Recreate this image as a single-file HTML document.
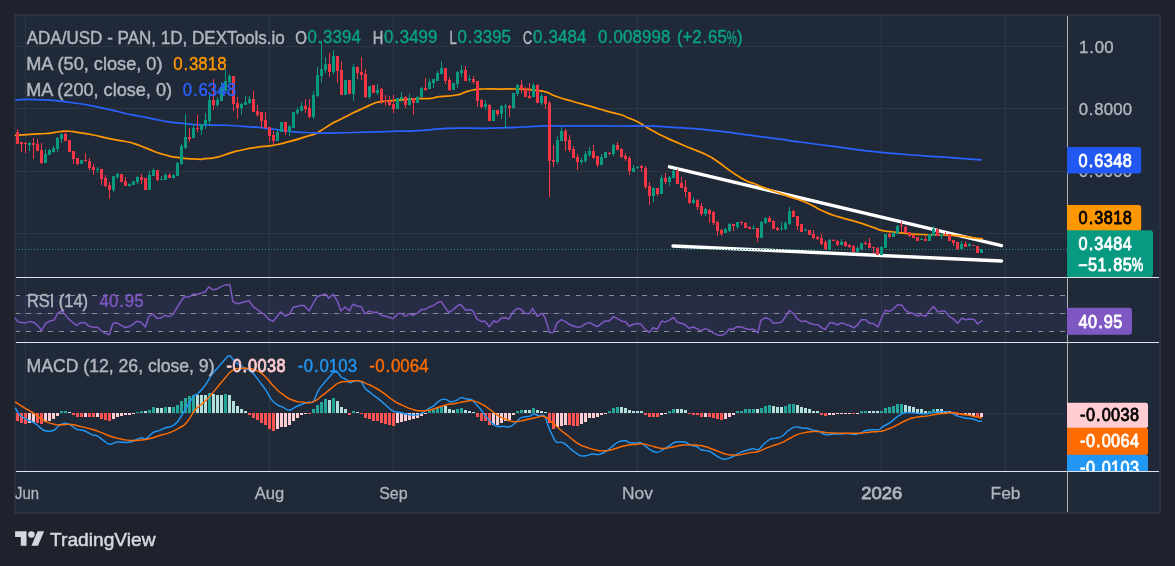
<!DOCTYPE html>
<html><head><meta charset="utf-8"><title>ADA/USD chart</title>
<style>html,body{margin:0;padding:0;background:#1e222d;overflow:hidden}svg{display:block;font-family:"Liberation Sans",sans-serif;will-change:transform}</style>
</head><body>
<svg width="1175" height="566" viewBox="0 0 1175 566">
<rect x="0" y="0" width="1175" height="566" fill="#1e222d"/>
<rect x="15" y="15" width="1145" height="498" fill="#1f2938" stroke="#2b303d" stroke-width="2"/>
<line x1="25.5" y1="16" x2="25.5" y2="471" stroke="#2d3645" stroke-width="1"/>
<line x1="269.5" y1="16" x2="269.5" y2="471" stroke="#2d3645" stroke-width="1"/>
<line x1="393.5" y1="16" x2="393.5" y2="471" stroke="#2d3645" stroke-width="1"/>
<line x1="637.5" y1="16" x2="637.5" y2="471" stroke="#2d3645" stroke-width="1"/>
<line x1="881.5" y1="16" x2="881.5" y2="471" stroke="#2d3645" stroke-width="1"/>
<line x1="1005.5" y1="16" x2="1005.5" y2="471" stroke="#2d3645" stroke-width="1"/>
<line x1="16" y1="46.5" x2="1067" y2="46.5" stroke="#2d3645" stroke-width="1"/>
<line x1="16" y1="108.5" x2="1067" y2="108.5" stroke="#2d3645" stroke-width="1"/>
<line x1="16" y1="171.5" x2="1067" y2="171.5" stroke="#2d3645" stroke-width="1"/>
<line x1="16" y1="233.5" x2="1067" y2="233.5" stroke="#2d3645" stroke-width="1"/>
<line x1="16" y1="413.5" x2="1067" y2="413.5" stroke="#2d3645" stroke-width="1"/>
<line x1="16" y1="313.5" x2="1067" y2="313.5" stroke="#2d3645" stroke-width="1"/>
<rect x="16" y="295.5" width="1051" height="36" fill="#7e57c2" fill-opacity="0.1"/>
<line x1="16" y1="295.5" x2="1067" y2="295.5" stroke="#8a8d97" stroke-width="1" stroke-dasharray="5 6" stroke-dashoffset="1"/>
<line x1="16" y1="313.5" x2="1067" y2="313.5" stroke="#8a8d97" stroke-width="1" stroke-dasharray="5 6" stroke-dashoffset="1"/>
<line x1="16" y1="331.5" x2="1067" y2="331.5" stroke="#8a8d97" stroke-width="1" stroke-dasharray="5 6" stroke-dashoffset="1"/>
<line x1="669.5" y1="166.8" x2="1001.5" y2="245.7" stroke="#ffffff" stroke-width="3.4" stroke-linecap="round"/>
<line x1="673" y1="246" x2="1001.5" y2="261" stroke="#ffffff" stroke-width="3.4" stroke-linecap="round"/>
<line x1="16" y1="249.5" x2="1067" y2="249.5" stroke="#089981" stroke-width="1" stroke-dasharray="1 2"/>
<path d="M15.6 135.4C20.4 135.0 19.8 134.9 29.9 134.3C40.0 133.7 37.4 134.2 45.8 133.5C54.2 132.8 49.7 133.0 55.0 132.3C60.3 131.6 58.0 131.8 61.7 131.4C65.4 131.0 62.6 131.1 66.0 131.1C69.4 131.1 68.1 131.1 72.0 131.5C75.9 131.9 70.4 131.1 77.6 132.3C84.8 133.5 82.9 132.9 93.5 135.0C104.1 137.1 98.8 136.4 109.4 138.6C120.0 140.8 117.1 139.8 125.3 141.5C133.5 143.2 126.8 141.3 134.0 143.6C141.2 145.9 136.9 144.8 146.8 148.4C156.7 152.0 152.4 151.3 163.6 154.5C174.8 157.7 169.2 156.4 180.4 157.9C191.6 159.4 188.7 158.8 197.1 159.1C205.5 159.4 198.8 159.4 205.5 158.7C212.2 158.0 208.9 159.0 217.3 157.1C225.7 155.2 222.5 155.3 230.7 152.9C238.9 150.5 233.4 151.9 242.0 150.0C250.6 148.1 246.0 148.9 256.4 147.3C266.8 145.7 261.9 147.3 273.1 145.3C284.3 143.3 278.8 144.4 290.0 141.4C301.2 138.4 298.3 138.9 306.7 136.4C315.1 133.9 310.3 135.9 315.1 133.9C319.9 131.9 315.6 133.8 321.0 130.5C326.4 127.2 325.0 127.6 331.2 124.0C337.4 120.4 333.5 122.9 339.6 119.8C345.7 116.7 344.0 117.5 349.6 114.7C355.2 111.9 351.4 113.8 356.4 111.4C361.4 109.0 359.1 110.0 364.7 107.5C370.3 105.0 368.6 105.6 373.1 103.8C377.6 102.0 372.6 103.1 378.2 102.1C383.8 101.1 380.5 101.7 390.0 100.8C399.5 99.9 396.9 100.1 406.7 99.4C416.5 98.7 411.2 99.0 419.4 98.7C427.6 98.4 424.5 99.1 431.2 98.4C437.9 97.7 431.2 97.8 439.6 96.7C448.0 95.6 448.0 96.5 456.4 95.0C464.8 93.5 459.1 94.0 464.7 92.3C470.3 90.6 466.9 91.1 473.1 90.0C479.3 88.9 474.2 89.3 483.2 89.0C492.2 88.7 489.4 89.0 500.0 89.0C510.6 89.0 506.3 88.9 515.0 89.0C523.7 89.1 518.9 88.8 526.0 89.3C533.1 89.8 529.4 89.5 536.2 90.4C543.0 91.3 539.6 90.1 546.3 92.1C553.0 94.1 547.5 93.4 556.4 96.5C565.3 99.6 561.9 98.3 573.1 101.5C584.3 104.7 578.7 103.0 589.9 106.2C601.1 109.4 596.7 108.3 606.7 111.1C616.7 113.9 612.9 112.3 620.0 114.5C627.1 116.7 622.2 115.3 628.0 117.7C633.8 120.1 631.7 118.8 637.5 121.7C643.3 124.6 639.6 123.1 645.4 126.5C651.2 129.9 648.1 128.3 655.0 132.0C661.9 135.7 659.2 134.3 666.1 137.6C673.0 140.9 668.8 138.9 675.7 141.9C682.6 144.9 679.4 143.6 686.8 146.7C694.2 149.8 690.5 147.9 697.9 151.1C705.3 154.3 702.2 152.5 709.1 156.2C716.0 159.9 712.2 157.9 718.6 162.3C725.0 166.7 721.8 164.9 728.2 169.4C734.6 173.9 731.4 171.8 737.7 175.8C744.0 179.8 741.4 178.6 747.2 181.3C753.0 184.0 749.9 182.0 755.2 184.0C760.5 186.0 757.8 185.4 763.1 187.4C768.4 189.4 765.5 188.1 771.1 190.1C776.7 192.1 773.7 191.1 780.0 193.3C786.3 195.5 781.0 193.7 789.9 196.8C798.8 199.9 795.7 198.0 806.7 202.7C817.7 207.4 811.8 206.2 822.8 211.0C833.8 215.8 828.4 213.6 839.6 217.2C850.8 220.8 845.2 218.5 856.4 221.9C867.6 225.3 864.7 224.5 873.1 227.3C881.5 230.1 874.8 228.7 881.5 230.3C888.2 231.9 884.9 230.9 893.3 232.0C901.7 233.1 896.9 232.7 906.7 233.5C916.5 234.3 911.8 234.0 922.8 234.5C933.8 235.0 928.4 234.6 939.6 235.0C950.8 235.4 945.2 234.8 956.4 235.7C967.6 236.6 964.6 236.8 973.1 237.8C981.6 238.8 979.0 238.4 982.0 238.7" fill="none" stroke="#ff9800" stroke-width="1.75" stroke-linejoin="round" stroke-linecap="round"/>
<path d="M15.9 100.0C22.4 99.9 17.0 98.8 35.3 99.6C53.6 100.4 47.1 99.4 70.7 102.5C94.3 105.6 87.8 105.1 106.0 108.8C124.2 112.5 116.0 111.4 125.3 113.5C134.6 115.6 126.8 113.7 134.0 115.1C141.2 116.5 136.9 115.6 146.8 117.6C156.7 119.6 152.4 119.1 163.6 121.0C174.8 122.9 169.2 122.0 180.4 123.2C191.6 124.4 185.9 124.0 197.1 124.7C208.3 125.4 202.8 124.9 214.0 125.2C225.2 125.5 218.7 124.9 230.7 125.5C242.7 126.1 241.4 126.3 250.0 126.9C258.6 127.5 248.7 126.4 256.4 127.2C264.1 128.0 261.9 127.8 273.1 129.2C284.3 130.6 278.8 130.3 290.0 131.4C301.2 132.5 294.7 132.0 306.7 132.5C318.7 133.0 310.4 133.0 326.0 133.0C341.6 133.0 328.7 133.1 353.4 132.5C378.1 131.9 376.9 131.9 400.0 131.2C423.1 130.5 409.6 131.1 422.8 130.3C436.0 129.5 428.4 129.6 439.6 128.9C450.8 128.2 445.2 128.3 456.4 128.1C467.6 127.9 461.9 128.2 473.1 128.2C484.3 128.2 478.8 128.4 490.0 128.2C501.2 128.0 495.8 128.1 506.7 127.7C517.6 127.3 511.8 127.5 522.8 127.0C533.8 126.5 528.4 126.6 539.6 126.2C550.8 125.8 539.6 126.0 556.4 125.9C573.2 125.8 568.8 125.9 590.0 125.9C611.2 125.9 599.4 125.9 620.0 126.0C640.6 126.1 634.3 125.8 651.8 126.2C669.3 126.6 656.6 126.3 672.5 127.3C688.4 128.3 682.5 127.7 699.5 129.2C716.5 130.7 707.5 129.8 723.4 131.7C739.3 133.6 728.3 132.4 747.2 134.9C766.1 137.4 762.4 136.8 780.0 139.2C797.6 141.6 781.6 139.5 800.0 142.0C818.4 144.5 811.7 143.6 835.3 146.7C858.9 149.8 847.1 148.7 870.7 151.3C894.3 153.9 882.4 152.6 906.0 154.5C929.6 156.4 916.3 155.1 941.4 156.9C966.5 158.7 968.0 158.8 981.3 159.8" fill="none" stroke="#2962ff" stroke-width="1.75" stroke-linejoin="round" stroke-linecap="round"/>
<path d="M16 132h3v12h-3zM17 129h1v15h-1zM20 142h3v2h-3zM21 142h1v10h-1zM24 143h3v1h-3zM25 142h1v11h-1zM32 143h3v2h-3zM33 138h1v21h-1zM36 144h3v7h-3zM37 139h1v12h-1zM40 150h3v13h-3zM41 143h1v21h-1zM64 134h3v7h-3zM65 130h1v11h-1zM68 140h3v12h-3zM72 151h3v8h-3zM73 151h1v13h-1zM76 158h3v6h-3zM77 158h1v7h-1zM84 160h3v1h-3zM85 153h1v9h-1zM88 161h3v7h-3zM89 158h1v12h-1zM92 167h3v3h-3zM93 164h1v11h-1zM100 169h3v10h-3zM101 169h1v16h-1zM104 178h3v8h-3zM105 175h1v12h-1zM108 185h3v5h-3zM109 182h1v17h-1zM120 174h3v8h-3zM124 181h3v5h-3zM125 177h1v9h-1zM140 177h3v3h-3zM141 174h1v10h-1zM144 178h3v12h-3zM156 170h3v10h-3zM157 170h1v11h-1zM168 175h3v3h-3zM169 173h1v5h-1zM188 137h3v2h-3zM189 128h1v14h-1zM196 128h3v1h-3zM197 115h1v17h-1zM212 100h3v5h-3zM213 79h1v31h-1zM232 76h3v28h-3zM233 76h1v35h-1zM236 103h3v5h-3zM237 97h1v22h-1zM252 99h3v13h-3zM253 91h1v21h-1zM256 111h3v4h-3zM257 105h1v12h-1zM260 112h3v9h-3zM261 112h1v16h-1zM264 120h3v8h-3zM265 112h1v16h-1zM268 127h3v9h-3zM269 127h1v15h-1zM272 135h3v6h-3zM273 131h1v13h-1zM284 122h3v10h-3zM285 122h1v13h-1zM304 106h3v3h-3zM305 99h1v14h-1zM308 108h3v9h-3zM309 99h1v19h-1zM328 64h3v8h-3zM329 53h1v24h-1zM336 56h3v15h-3zM337 56h1v27h-1zM340 70h3v25h-3zM341 61h1v34h-1zM348 80h3v14h-3zM356 67h3v6h-3zM357 66h1v13h-1zM360 72h3v3h-3zM361 57h1v23h-1zM364 74h3v23h-3zM365 69h1v29h-1zM372 85h3v8h-3zM380 89h3v12h-3zM381 88h1v16h-1zM384 100h3v2h-3zM385 95h1v11h-1zM388 101h3v4h-3zM389 96h1v10h-1zM392 104h3v5h-3zM393 95h1v18h-1zM404 97h3v8h-3zM405 96h1v12h-1zM412 98h3v5h-3zM413 98h1v17h-1zM424 88h3v2h-3zM425 78h1v13h-1zM444 68h3v13h-3zM445 68h1v16h-1zM448 80h3v10h-3zM449 77h1v14h-1zM464 70h3v11h-3zM465 66h1v15h-1zM472 79h3v3h-3zM473 76h1v8h-1zM476 81h3v20h-3zM477 81h1v26h-1zM480 100h3v7h-3zM481 99h1v9h-1zM488 105h3v16h-3zM489 104h1v17h-1zM496 110h3v4h-3zM497 110h1v6h-1zM508 106h3v2h-3zM509 105h1v12h-1zM520 85h3v4h-3zM521 80h1v13h-1zM524 88h3v9h-3zM525 87h1v10h-1zM528 96h3v2h-3zM529 83h1v16h-1zM536 85h3v18h-3zM537 84h1v19h-1zM544 96h3v8h-3zM545 96h1v13h-1zM548 103h3v58h-3zM549 101h1v96h-1zM552 160h3v2h-3zM553 145h1v22h-1zM564 131h3v10h-3zM565 129h1v22h-1zM568 140h3v10h-3zM569 135h1v17h-1zM572 149h3v9h-3zM573 146h1v12h-1zM576 157h3v5h-3zM577 154h1v16h-1zM592 151h3v7h-3zM593 145h1v14h-1zM596 156h3v9h-3zM597 156h1v11h-1zM608 153h3v1h-3zM609 152h1v3h-1zM616 145h3v5h-3zM617 142h1v8h-1zM620 149h3v8h-3zM621 148h1v10h-1zM624 156h3v3h-3zM625 153h1v8h-1zM628 158h3v13h-3zM629 156h1v19h-1zM640 166h3v2h-3zM641 165h1v7h-1zM644 168h3v19h-3zM645 166h1v23h-1zM648 186h3v10h-3zM649 182h1v23h-1zM656 188h3v6h-3zM657 188h1v8h-1zM664 178h3v4h-3zM665 173h1v11h-1zM676 171h3v13h-3zM677 169h1v15h-1zM680 183h3v5h-3zM681 177h1v11h-1zM684 187h3v5h-3zM685 180h1v17h-1zM688 192h3v11h-3zM689 192h1v12h-1zM696 200h3v7h-3zM697 199h1v11h-1zM700 206h3v8h-3zM701 203h1v13h-1zM708 210h3v4h-3zM709 209h1v14h-1zM712 212h3v11h-3zM713 211h1v14h-1zM716 222h3v9h-3zM717 221h1v15h-1zM720 230h3v4h-3zM721 229h1v7h-1zM732 224h3v2h-3zM733 224h1v7h-1zM740 222h3v1h-3zM741 221h1v4h-1zM744 223h3v5h-3zM745 222h1v6h-1zM748 227h3v2h-3zM749 226h1v3h-1zM756 228h3v10h-3zM757 228h1v14h-1zM768 218h3v4h-3zM769 216h1v6h-1zM772 221h3v8h-3zM773 220h1v9h-1zM776 228h3v2h-3zM777 227h1v4h-1zM792 211h3v6h-3zM793 210h1v7h-1zM796 216h3v10h-3zM797 216h1v14h-1zM800 224h3v8h-3zM808 230h3v5h-3zM812 234h3v4h-3zM813 230h1v9h-1zM816 237h3v2h-3zM817 236h1v4h-1zM820 238h3v6h-3zM821 234h1v11h-1zM824 242h3v7h-3zM825 240h1v10h-1zM832 240h3v1h-3zM833 239h1v2h-1zM836 241h3v4h-3zM837 240h1v6h-1zM844 242h3v4h-3zM845 241h1v6h-1zM848 245h3v2h-3zM849 244h1v4h-1zM852 246h3v6h-3zM853 245h1v7h-1zM864 243h3v1h-3zM865 241h1v4h-1zM868 243h3v5h-3zM869 238h1v10h-1zM872 247h3v1h-3zM873 247h1v6h-1zM876 248h3v7h-3zM877 247h1v8h-1zM888 234h3v3h-3zM889 233h1v5h-1zM900 225h3v1h-3zM901 221h1v11h-1zM904 227h3v6h-3zM905 226h1v7h-1zM908 232h3v4h-3zM909 232h1v5h-1zM912 235h3v3h-3zM913 234h1v4h-1zM916 237h3v4h-3zM924 239h3v2h-3zM925 236h1v5h-1zM936 229h3v7h-3zM944 234h3v1h-3zM945 232h1v3h-1zM948 234h3v7h-3zM952 240h3v3h-3zM953 240h1v6h-1zM956 242h3v7h-3zM957 242h1v8h-1zM964 244h3v3h-3zM965 241h1v6h-1zM972 245h3v1h-3zM976 246h3v7h-3z" fill="#f23645" shape-rendering="crispEdges"/>
<path d="M28 143h3v2h-3zM29 142h1v9h-1zM44 154h3v9h-3zM45 149h1v14h-1zM48 150h3v5h-3zM49 149h1v6h-1zM52 148h3v4h-3zM53 146h1v7h-1zM56 138h3v11h-3zM57 137h1v15h-1zM60 134h3v5h-3zM61 134h1v9h-1zM80 160h3v4h-3zM96 169h3v1h-3zM97 167h1v6h-1zM112 176h3v14h-3zM113 176h1v16h-1zM116 174h3v3h-3zM117 173h1v6h-1zM128 184h3v2h-3zM129 183h1v4h-1zM132 181h3v4h-3zM136 177h3v5h-3zM137 176h1v8h-1zM148 175h3v15h-3zM149 171h1v19h-1zM152 170h3v6h-3zM153 168h1v8h-1zM160 179h3v1h-3zM161 176h1v4h-1zM164 175h3v5h-3zM165 173h1v7h-1zM172 175h3v3h-3zM173 174h1v5h-1zM176 163h3v13h-3zM177 162h1v14h-1zM180 146h3v18h-3zM181 144h1v21h-1zM184 137h3v11h-3zM185 114h1v35h-1zM192 128h3v10h-3zM193 124h1v14h-1zM200 124h3v6h-3zM201 124h1v11h-1zM204 120h3v5h-3zM205 113h1v16h-1zM208 100h3v21h-3zM209 95h1v31h-1zM216 100h3v5h-3zM217 97h1v10h-1zM220 87h3v14h-3zM221 82h1v19h-1zM224 81h3v10h-3zM225 69h1v22h-1zM228 76h3v6h-3zM229 74h1v9h-1zM240 104h3v4h-3zM241 103h1v12h-1zM244 102h3v3h-3zM245 96h1v9h-1zM248 99h3v4h-3zM249 96h1v8h-1zM276 132h3v9h-3zM277 129h1v12h-1zM280 122h3v10h-3zM288 126h3v6h-3zM289 125h1v11h-1zM292 112h3v16h-3zM296 110h3v3h-3zM297 107h1v8h-1zM300 106h3v5h-3zM301 102h1v9h-1zM312 95h3v22h-3zM313 91h1v28h-1zM316 75h3v21h-3zM317 67h1v30h-1zM320 69h3v7h-3zM321 41h1v42h-1zM324 64h3v6h-3zM325 57h1v16h-1zM332 56h3v16h-3zM333 50h1v24h-1zM344 80h3v15h-3zM352 67h3v27h-3zM353 64h1v37h-1zM368 86h3v11h-3zM369 86h1v13h-1zM376 90h3v3h-3zM377 84h1v11h-1zM396 98h3v11h-3zM400 97h3v2h-3zM401 92h1v10h-1zM408 98h3v7h-3zM409 94h1v12h-1zM416 97h3v6h-3zM417 96h1v7h-1zM420 88h3v9h-3zM421 87h1v11h-1zM428 82h3v7h-3zM429 79h1v10h-1zM432 79h3v4h-3zM433 79h1v9h-1zM436 73h3v8h-3zM437 71h1v10h-1zM440 68h3v6h-3zM441 61h1v13h-1zM452 83h3v7h-3zM456 72h3v12h-3zM457 71h1v17h-1zM460 70h3v3h-3zM461 65h1v12h-1zM468 79h3v1h-3zM469 75h1v7h-1zM484 104h3v3h-3zM485 100h1v10h-1zM492 110h3v11h-3zM500 106h3v8h-3zM501 105h1v14h-1zM504 106h3v1h-3zM505 104h1v24h-1zM512 93h3v15h-3zM513 93h1v16h-1zM516 85h3v9h-3zM517 84h1v12h-1zM532 85h3v12h-3zM533 83h1v14h-1zM540 96h3v7h-3zM541 93h1v12h-1zM556 140h3v22h-3zM557 136h1v28h-1zM560 131h3v10h-3zM561 127h1v14h-1zM580 160h3v2h-3zM581 158h1v6h-1zM584 154h3v7h-3zM585 151h1v12h-1zM588 151h3v4h-3zM589 147h1v10h-1zM600 157h3v8h-3zM601 154h1v11h-1zM604 152h3v6h-3zM612 145h3v9h-3zM613 144h1v12h-1zM632 168h3v4h-3zM633 165h1v7h-1zM636 167h3v1h-3zM637 166h1v3h-1zM652 188h3v8h-3zM653 187h1v15h-1zM660 178h3v16h-3zM661 175h1v19h-1zM668 177h3v5h-3zM669 176h1v10h-1zM672 171h3v7h-3zM673 170h1v8h-1zM692 200h3v3h-3zM693 197h1v7h-1zM704 209h3v5h-3zM705 208h1v8h-1zM724 229h3v4h-3zM725 228h1v5h-1zM728 224h3v7h-3zM729 223h1v9h-1zM736 222h3v5h-3zM737 222h1v7h-1zM752 228h3v1h-3zM753 225h1v4h-1zM760 222h3v16h-3zM761 221h1v17h-1zM764 218h3v5h-3zM765 217h1v7h-1zM780 228h3v1h-3zM781 222h1v9h-1zM784 223h3v6h-3zM785 221h1v9h-1zM788 211h3v13h-3zM789 207h1v18h-1zM804 230h3v1h-3zM805 228h1v3h-1zM828 240h3v10h-3zM829 239h1v11h-1zM840 242h3v3h-3zM841 239h1v6h-1zM856 248h3v4h-3zM857 246h1v6h-1zM860 243h3v6h-3zM861 243h1v7h-1zM880 247h3v8h-3zM881 246h1v9h-1zM884 234h3v14h-3zM892 233h3v4h-3zM893 232h1v5h-1zM896 226h3v8h-3zM897 225h1v9h-1zM920 239h3v1h-3zM921 238h1v2h-1zM928 234h3v7h-3zM932 229h3v7h-3zM933 226h1v10h-1zM940 234h3v2h-3zM941 234h1v5h-1zM960 244h3v5h-3zM961 241h1v9h-1zM968 244h3v2h-3zM969 243h1v4h-1zM980 249h3v4h-3z" fill="#089981" shape-rendering="crispEdges"/>
<path d="M15.2 318.1L18.3 322.1L25.0 322.9L30.1 321.4L33.9 322.4L37.7 325.5L41.6 330.5L45.4 323.6L50.0 320.9L54.1 320.1L57.7 313.2L61.8 310.9L65.3 314.8L69.1 319.4L76.5 325.5L80.6 322.7L84.8 322.7L89.1 326.3L93.7 327.3L97.5 327.3L101.3 330.8L105.1 333.1L109.3 334.7L112.8 323.6L116.6 322.7L120.8 325.2L125.1 327.5L128.9 326.7L132.7 324.7L136.5 321.2L140.8 322.1L145.4 327.0L148.8 316.6L152.6 314.0L157.2 318.6L160.8 318.1L164.9 315.2L168.7 316.6L172.5 315.1L176.4 308.6L180.2 302.5L184.0 297.1L188.6 297.1L193.4 294.1L196.9 294.5L201.0 293.3L205.3 291.8L208.7 286.9L213.0 289.9L217.6 288.7L221.4 286.4L225.5 284.9L229.8 284.4L232.9 301.7L237.5 303.7L242.8 302.2L249.0 300.7L253.6 307.1L258.2 310.2L264.3 314.5L268.9 319.4L273.0 321.4L277.0 316.6L280.7 312.0L285.3 316.0L289.6 314.0L293.4 307.1L297.2 306.6L301.5 305.3L304.6 305.9L309.2 310.9L312.9 304.0L317.1 296.7L321.0 295.2L325.6 294.1L328.6 298.2L333.2 294.4L337.4 301.0L340.9 310.9L345.0 307.1L349.6 310.9L352.7 304.3L357.7 306.3L361.3 306.8L364.9 314.0L369.1 310.9L373.4 312.5L376.7 312.0L381.3 315.5L385.1 316.0L389.7 317.5L393.3 318.6L398.2 313.5L401.5 313.5L405.1 316.3L409.7 313.7L412.7 315.5L417.3 313.2L421.9 309.4L425.0 309.4L429.6 306.8L433.4 305.6L436.8 303.0L441.1 301.4L444.9 307.1L448.7 312.5L453.0 309.9L457.6 305.6L460.7 304.5L465.6 310.2L470.2 309.7L472.9 310.9L477.1 319.1L481.7 321.7L484.7 320.9L489.3 326.7L493.9 320.6L496.5 322.4L501.6 318.1L505.7 317.8L508.8 319.1L513.4 311.4L517.7 308.3L520.4 308.9L525.3 313.5L529.6 313.5L532.7 308.6L537.3 316.3L541.6 313.3L544.9 317.1L549.5 332.4L553.5 332.4L556.9 323.2L561.4 319.7L565.3 321.7L569.1 324.3L573.7 326.3L578.0 327.3L581.1 326.7L585.2 324.0L589.3 322.4L593.3 324.7L597.4 326.6L601.3 323.6L605.1 320.9L609.2 320.9L613.8 316.6L617.4 318.6L622.0 321.2L625.8 321.7L629.2 326.3L633.4 324.3L637.3 323.6L640.8 324.0L645.7 330.1L649.5 332.4L653.1 327.8L657.2 329.3L661.8 320.9L664.8 322.1L669.4 320.1L673.6 317.5L677.1 322.0L680.9 323.2L685.2 324.7L688.9 328.2L693.2 327.0L697.0 328.6L700.8 330.8L705.1 328.6L709.3 330.1L713.1 332.8L717.8 335.1L721.7 335.4L725.0 333.9L729.3 329.0L733.1 329.3L737.0 326.7L741.3 327.0L745.4 328.6L749.5 329.6L753.8 329.3L758.0 332.8L760.7 320.6L765.3 317.5L769.5 319.1L773.0 322.9L777.6 322.9L781.7 322.1L785.7 316.3L789.4 310.5L793.7 313.5L797.0 318.6L801.3 321.4L805.6 320.9L809.3 323.2L813.6 324.4L817.9 324.7L821.2 327.3L825.1 329.6L830.0 322.4L833.8 323.2L837.3 324.7L841.9 322.7L846.0 324.7L849.6 325.5L853.7 327.8L857.2 325.2L861.4 319.7L865.7 319.7L869.0 322.9L873.3 323.6L877.9 327.0L881.7 317.8L885.3 310.2L889.4 311.4L893.8 308.6L897.5 304.8L902.1 305.3L905.2 310.2L909.4 312.5L913.3 313.5L917.4 316.0L921.4 315.1L925.5 316.3L929.4 310.9L933.5 306.3L937.8 312.0L941.3 310.9L945.0 311.2L950.0 317.1L953.1 318.6L957.7 323.2L961.8 318.1L965.4 319.7L970.0 318.9L974.1 319.4L977.6 324.0L981.8 320.9" fill="none" stroke="#7e57c2" stroke-width="1.5" stroke-linejoin="round" stroke-linecap="round"/>
<path d="M60 411h3v2h-3zM64 411h3v2h-3zM136 412h3v1h-3zM140 411h3v2h-3zM148 410h3v3h-3zM152 407h3v6h-3zM164 407h3v6h-3zM172 407h3v6h-3zM176 405h3v8h-3zM180 401h3v12h-3zM184 398h3v15h-3zM188 396h3v17h-3zM192 395h3v18h-3zM208 393h3v20h-3zM224 394h3v19h-3zM312 409h3v4h-3zM316 405h3v8h-3zM320 402h3v11h-3zM324 399h3v14h-3zM332 398h3v15h-3zM352 411h3v2h-3zM428 411h3v2h-3zM432 410h3v3h-3zM436 408h3v5h-3zM440 407h3v6h-3zM456 409h3v4h-3zM460 408h3v5h-3zM516 411h3v2h-3zM520 410h3v3h-3zM532 408h3v5h-3zM608 411h3v2h-3zM612 408h3v5h-3zM616 407h3v6h-3zM668 411h3v2h-3zM672 409h3v4h-3zM736 411h3v2h-3zM740 411h3v2h-3zM744 409h3v4h-3zM748 409h3v4h-3zM752 409h3v4h-3zM760 408h3v5h-3zM764 406h3v7h-3zM768 405h3v8h-3zM784 406h3v7h-3zM788 404h3v9h-3zM792 404h3v9h-3zM860 411h3v2h-3zM864 411h3v2h-3zM880 411h3v2h-3zM884 408h3v5h-3zM888 407h3v6h-3zM892 406h3v7h-3zM896 404h3v9h-3zM900 404h3v9h-3zM928 411h3v2h-3zM932 409h3v4h-3z" fill="#26a69a" shape-rendering="crispEdges"/>
<path d="M68 412h3v1h-3zM144 411h3v2h-3zM156 408h3v5h-3zM160 408h3v5h-3zM168 407h3v6h-3zM196 395h3v18h-3zM200 395h3v18h-3zM204 395h3v18h-3zM212 394h3v19h-3zM216 395h3v18h-3zM220 395h3v18h-3zM228 395h3v18h-3zM232 401h3v12h-3zM236 406h3v7h-3zM240 409h3v4h-3zM244 411h3v2h-3zM328 400h3v13h-3zM336 401h3v12h-3zM340 407h3v6h-3zM344 409h3v4h-3zM356 412h3v1h-3zM444 406h3v7h-3zM448 409h3v4h-3zM452 410h3v3h-3zM464 410h3v3h-3zM468 411h3v2h-3zM472 412h3v1h-3zM524 410h3v3h-3zM528 410h3v3h-3zM536 410h3v3h-3zM540 411h3v2h-3zM544 412h3v1h-3zM620 407h3v6h-3zM624 408h3v5h-3zM628 410h3v3h-3zM632 411h3v2h-3zM636 411h3v2h-3zM640 411h3v2h-3zM676 409h3v4h-3zM680 409h3v4h-3zM684 410h3v3h-3zM756 409h3v4h-3zM772 406h3v7h-3zM776 407h3v6h-3zM780 407h3v6h-3zM796 405h3v8h-3zM800 407h3v6h-3zM804 408h3v5h-3zM808 409h3v4h-3zM812 411h3v2h-3zM816 411h3v2h-3zM868 411h3v2h-3zM872 411h3v2h-3zM876 411h3v2h-3zM904 405h3v8h-3zM908 406h3v7h-3zM912 407h3v6h-3zM916 409h3v4h-3zM920 409h3v4h-3zM924 411h3v2h-3zM936 409h3v4h-3zM940 409h3v4h-3zM944 411h3v2h-3zM948 411h3v2h-3z" fill="#b2dfdb" shape-rendering="crispEdges"/>
<path d="M16 413h3v8h-3zM20 413h3v10h-3zM24 413h3v11h-3zM36 413h3v10h-3zM40 413h3v11h-3zM72 413h3v2h-3zM76 413h3v4h-3zM80 413h3v4h-3zM88 413h3v4h-3zM92 413h3v4h-3zM100 413h3v6h-3zM104 413h3v7h-3zM108 413h3v8h-3zM248 413h3v2h-3zM252 413h3v5h-3zM256 413h3v7h-3zM260 413h3v10h-3zM264 413h3v12h-3zM268 413h3v16h-3zM272 413h3v18h-3zM308 413h3v1h-3zM348 413h3v2h-3zM360 413h3v1h-3zM364 413h3v5h-3zM368 413h3v6h-3zM372 413h3v8h-3zM376 413h3v8h-3zM380 413h3v10h-3zM384 413h3v11h-3zM388 413h3v12h-3zM392 413h3v13h-3zM476 413h3v4h-3zM480 413h3v8h-3zM484 413h3v8h-3zM488 413h3v12h-3zM548 413h3v10h-3zM552 413h3v16h-3zM568 413h3v12h-3zM572 413h3v13h-3zM576 413h3v13h-3zM644 413h3v2h-3zM648 413h3v4h-3zM652 413h3v4h-3zM656 413h3v4h-3zM688 413h3v1h-3zM692 413h3v2h-3zM696 413h3v2h-3zM700 413h3v4h-3zM708 413h3v4h-3zM712 413h3v5h-3zM716 413h3v6h-3zM720 413h3v7h-3zM820 413h3v2h-3zM824 413h3v3h-3zM852 413h3v1h-3zM952 413h3v1h-3zM956 413h3v2h-3zM960 413h3v2h-3zM976 413h3v4h-3z" fill="#ff5252" shape-rendering="crispEdges"/>
<path d="M28 413h3v10h-3zM32 413h3v9h-3zM44 413h3v9h-3zM48 413h3v8h-3zM52 413h3v6h-3zM56 413h3v3h-3zM84 413h3v4h-3zM96 413h3v4h-3zM112 413h3v6h-3zM116 413h3v4h-3zM120 413h3v3h-3zM124 413h3v2h-3zM128 413h3v2h-3zM132 413h3v1h-3zM276 413h3v16h-3zM280 413h3v14h-3zM284 413h3v14h-3zM288 413h3v12h-3zM292 413h3v8h-3zM296 413h3v5h-3zM300 413h3v2h-3zM304 413h3v1h-3zM396 413h3v10h-3zM400 413h3v9h-3zM404 413h3v8h-3zM408 413h3v7h-3zM412 413h3v6h-3zM416 413h3v5h-3zM420 413h3v3h-3zM424 413h3v1h-3zM492 413h3v12h-3zM496 413h3v12h-3zM500 413h3v10h-3zM504 413h3v8h-3zM508 413h3v7h-3zM512 413h3v2h-3zM556 413h3v14h-3zM560 413h3v13h-3zM564 413h3v12h-3zM580 413h3v11h-3zM584 413h3v9h-3zM588 413h3v5h-3zM592 413h3v5h-3zM596 413h3v4h-3zM600 413h3v2h-3zM604 413h3v1h-3zM660 413h3v2h-3zM664 413h3v1h-3zM704 413h3v4h-3zM724 413h3v6h-3zM728 413h3v4h-3zM732 413h3v2h-3zM828 413h3v2h-3zM832 413h3v2h-3zM836 413h3v1h-3zM840 413h3v1h-3zM844 413h3v1h-3zM848 413h3v1h-3zM856 413h3v1h-3zM964 413h3v2h-3zM968 413h3v2h-3zM972 413h3v3h-3zM980 413h3v4h-3z" fill="#ffcdd2" shape-rendering="crispEdges"/>
<path d="M15.6 408.3C16.4 409.7 17.8 413.0 19.8 415.1C21.8 417.2 23.0 417.6 25.7 419.0C28.4 420.4 30.7 420.7 33.4 422.3C36.1 423.9 37.0 425.1 39.3 426.8C41.6 428.5 42.2 430.0 45.1 430.7C48.0 431.4 51.2 431.3 53.9 430.3C56.6 429.3 56.5 427.2 58.7 425.8C60.9 424.4 62.6 423.5 64.9 423.3C67.2 423.1 68.1 423.6 70.4 424.8C72.7 426.0 73.5 427.9 76.2 429.1C78.9 430.3 80.9 429.6 84.0 430.7C87.1 431.8 89.1 433.5 91.8 434.6C94.5 435.7 95.3 434.9 97.6 436.1C99.9 437.3 101.0 438.8 103.4 440.4C105.8 442.0 106.9 444.0 109.6 444.3C112.3 444.6 114.3 442.4 117.0 442.0C119.7 441.6 120.2 442.3 122.9 442.3C125.6 442.3 127.1 442.9 130.6 442.0C134.1 441.1 137.3 438.6 140.4 437.9C143.5 437.2 143.7 439.6 146.2 438.5C148.7 437.4 150.3 434.2 153.0 432.6C155.7 431.0 157.3 431.3 159.8 430.3C162.3 429.3 163.3 428.6 165.6 427.8C167.9 427.0 169.2 427.6 171.5 426.4C173.8 425.2 175.0 424.5 177.3 421.9C179.6 419.3 180.8 416.9 183.1 413.2C185.4 409.5 186.8 407.0 189.0 403.5C191.2 400.0 192.3 397.7 194.0 395.7C195.7 393.7 195.4 395.8 197.7 393.7C200.0 391.6 202.7 388.7 205.4 385.0C208.1 381.3 209.0 378.6 211.3 375.3C213.6 372.0 214.6 371.4 217.1 368.5C219.6 365.6 221.5 363.2 223.9 360.7C226.3 358.2 227.3 355.9 229.2 355.8C231.1 355.7 231.5 358.2 233.6 360.1C235.7 362.0 237.4 363.6 239.5 365.2C241.6 366.8 241.8 366.5 244.3 367.9C246.8 369.3 249.0 369.6 252.1 372.4C255.2 375.2 257.2 378.6 259.9 382.1C262.6 385.6 263.4 386.4 265.7 389.9C268.0 393.4 269.2 396.6 271.5 399.6C273.8 402.6 275.1 403.3 277.4 404.8C279.7 406.3 280.9 406.2 283.2 407.3C285.5 408.4 286.7 410.3 289.0 410.3C291.3 410.3 292.2 408.6 294.9 407.3C297.6 406.0 299.9 405.0 302.6 404.0C305.3 403.0 306.4 402.6 308.5 402.1C310.6 401.6 311.4 403.8 313.3 401.5C315.2 399.2 316.1 394.5 318.2 390.8C320.3 387.1 321.7 385.9 324.0 383.0C326.3 380.1 328.0 378.3 329.9 376.2C331.8 374.1 332.2 373.2 333.7 372.4C335.2 371.6 336.0 371.4 337.6 372.4C339.2 373.4 339.7 375.8 341.5 377.2C343.3 378.6 344.6 378.4 346.4 379.5C348.2 380.6 348.6 382.5 350.3 382.7C352.0 382.9 352.9 380.8 355.1 380.7C357.3 380.6 359.6 380.7 361.5 382.1C363.4 383.5 362.8 385.6 364.8 387.9C366.8 390.2 368.7 391.4 371.6 393.7C374.5 396.0 376.3 397.1 379.4 399.6C382.5 402.1 384.5 404.1 387.2 406.4C389.9 408.7 390.7 410.0 393.0 411.2C395.3 412.4 396.1 411.6 398.8 412.2C401.5 412.8 403.5 413.6 406.6 414.2C409.7 414.8 411.7 415.2 414.4 415.1C417.1 415.0 417.9 414.8 420.2 413.8C422.5 412.8 423.5 411.8 426.0 410.3C428.5 408.8 430.5 408.0 432.8 406.4C435.1 404.8 435.9 403.5 437.7 402.1C439.5 400.7 439.8 400.1 441.6 399.6C443.4 399.1 444.9 399.2 446.5 399.6C448.1 400.0 448.0 401.1 449.4 401.5C450.8 401.9 451.8 401.8 453.3 401.5C454.8 401.2 455.6 401.0 457.1 400.2C458.6 399.4 459.0 397.8 461.0 397.6C463.0 397.4 464.8 398.6 466.9 399.0C469.0 399.4 470.2 398.9 471.7 399.6C473.2 400.3 472.8 400.6 474.6 402.5C476.4 404.4 478.2 406.4 480.5 409.3C482.8 412.2 484.0 414.4 486.3 417.1C488.6 419.8 490.1 421.1 492.1 422.9C494.1 424.7 494.1 425.5 496.4 426.2C498.7 426.9 501.2 426.3 503.8 426.4C506.4 426.5 507.3 427.5 509.6 426.8C511.9 426.1 513.4 424.7 515.5 422.9C517.6 421.1 518.4 419.2 520.3 418.0C522.2 416.8 523.2 417.1 525.2 416.7C527.2 416.3 528.4 416.6 530.1 416.1C531.8 415.6 531.8 414.1 533.5 414.0C535.2 413.9 536.5 415.3 538.7 415.7C540.9 416.1 542.6 413.9 544.6 416.1C546.6 418.3 546.6 422.1 548.5 426.8C550.4 431.5 552.6 436.3 554.3 439.4C556.0 442.5 555.8 441.7 557.2 442.3C558.6 442.9 559.5 442.0 561.1 442.3C562.7 442.6 563.1 442.5 565.0 443.9C566.9 445.3 568.5 447.2 570.8 449.1C573.1 451.0 574.7 452.0 576.7 453.4C578.7 454.8 579.0 455.5 580.9 455.9C582.8 456.3 584.1 456.0 586.4 455.6C588.7 455.2 589.9 454.2 592.2 454.0C594.5 453.8 595.9 454.8 598.0 454.6C600.1 454.4 600.9 453.9 602.9 453.0C604.9 452.1 605.7 451.6 607.8 450.1C609.9 448.6 611.5 446.9 613.6 445.3C615.7 443.7 616.2 442.8 618.5 441.9C620.8 441.0 623.0 440.6 625.3 440.8C627.6 441.0 628.0 442.5 630.1 442.9C632.2 443.3 633.8 442.9 635.9 442.9C638.0 442.9 638.7 441.8 640.8 442.7C642.9 443.6 644.5 445.6 646.6 447.2C648.7 448.8 649.4 449.5 651.5 450.5C653.6 451.5 654.8 452.7 657.3 452.4C659.8 452.1 661.6 450.5 664.1 449.1C666.6 447.7 667.9 446.7 670.0 445.3C672.1 443.9 672.7 443.0 674.8 442.3C676.9 441.6 678.6 441.8 680.7 441.8C682.8 441.8 683.4 441.6 685.5 442.3C687.6 443.0 689.1 444.4 691.4 445.3C693.7 446.2 695.3 445.9 697.2 446.8C699.1 447.7 698.6 448.8 701.1 449.7C703.6 450.6 706.5 450.1 709.8 451.5C713.1 452.9 714.7 454.9 717.6 456.5C720.5 458.1 721.3 459.3 724.4 459.3C727.5 459.3 729.8 457.9 733.1 456.5C736.4 455.1 737.8 453.5 740.9 452.1C744.0 450.7 746.2 450.4 748.7 449.7C751.2 449.0 751.6 448.8 753.5 448.8C755.4 448.8 756.3 450.5 758.4 449.5C760.5 448.5 761.9 445.7 764.2 443.7C766.5 441.7 767.7 440.5 770.0 439.4C772.3 438.3 773.6 438.7 775.9 438.1C778.2 437.5 779.4 437.9 781.7 436.5C784.0 435.1 785.2 433.1 787.5 431.3C789.8 429.5 791.4 428.3 793.4 427.4C795.4 426.5 795.6 426.9 797.3 427.0C799.0 427.1 800.2 427.8 802.1 428.1C804.0 428.4 804.9 427.9 807.0 428.3C809.1 428.7 810.5 429.5 812.8 430.1C815.1 430.7 816.1 430.4 818.6 431.3C821.1 432.2 822.7 434.0 825.4 434.6C828.1 435.2 829.3 434.3 832.2 434.2C835.1 434.1 836.9 434.1 840.0 434.0C843.1 433.9 844.7 433.5 847.8 433.6C850.9 433.7 852.9 434.8 855.6 434.6C858.3 434.4 859.1 433.5 861.4 432.6C863.7 431.7 864.5 430.9 867.2 430.3C869.9 429.7 872.7 429.8 875.0 429.7C877.3 429.6 877.4 430.3 878.9 429.7C880.4 429.1 880.6 428.2 882.7 426.8C884.8 425.4 886.7 424.9 889.6 422.9C892.5 420.9 894.6 418.6 897.3 416.7C900.0 414.8 900.9 414.0 903.2 413.2C905.5 412.4 906.3 412.6 909.0 412.6C911.7 412.6 913.7 413.0 916.8 413.2C919.9 413.4 921.4 413.9 924.5 413.8C927.6 413.7 929.2 413.0 932.3 412.6C935.4 412.2 937.2 412.0 940.1 411.8C943.0 411.6 944.6 411.5 946.9 411.8C949.2 412.1 949.7 412.3 951.8 413.2C953.9 414.1 954.9 415.1 957.6 416.1C960.3 417.1 962.3 417.4 965.4 418.0C968.5 418.6 970.6 418.4 973.1 419.0C975.6 419.6 976.3 420.5 978.0 421.0C979.7 421.5 980.8 421.2 981.5 421.3" fill="none" stroke="#2196f3" stroke-width="1.45" stroke-linejoin="round" stroke-linecap="round"/>
<path d="M15.6 402.1C18.3 403.8 17.8 403.6 23.7 407.3C29.6 411.0 26.9 409.0 33.4 413.2C39.9 417.4 36.7 416.4 43.2 420.0C49.7 423.6 47.1 422.3 52.9 423.9C58.7 425.5 54.9 424.6 60.7 424.8C66.5 425.0 63.9 424.0 70.4 424.5C76.9 425.0 73.0 424.8 80.1 426.4C87.2 428.0 84.7 427.2 91.8 429.3C98.9 431.4 95.0 430.2 101.5 432.6C108.0 435.0 104.7 434.4 111.2 436.5C117.7 438.6 114.4 437.7 120.9 439.0C127.4 440.3 124.1 440.1 130.6 440.4C137.1 440.7 133.9 440.6 140.4 440.0C146.9 439.4 143.6 440.0 150.1 438.5C156.6 437.0 153.3 437.5 159.8 435.5C166.3 433.5 163.0 435.2 169.5 432.6C176.0 430.0 173.4 431.4 179.2 427.8C185.0 424.2 181.5 428.1 187.0 421.9C192.5 415.7 189.6 416.3 195.7 409.3C201.8 402.3 198.9 407.4 205.4 400.9C211.9 394.4 208.7 397.5 215.2 389.9C221.7 382.3 219.1 384.7 224.9 378.2C230.7 371.7 227.5 373.6 232.7 370.4C237.9 367.2 235.2 369.1 240.4 368.5C245.6 367.9 243.0 367.9 248.2 368.5C253.4 369.1 250.8 368.1 256.0 370.4C261.2 372.7 258.0 370.1 263.8 375.3C269.6 380.5 267.0 379.5 273.5 386.0C280.0 392.5 276.7 390.0 283.2 394.7C289.7 399.4 286.4 397.7 292.9 400.2C299.4 402.7 296.1 401.5 302.6 402.1C309.1 402.7 305.9 404.2 312.4 402.1C318.9 400.0 315.6 400.4 322.1 395.7C328.6 391.0 326.0 392.2 331.8 387.9C337.6 383.6 334.4 384.8 339.6 382.7C344.8 380.6 342.2 382.2 347.4 381.5C352.6 380.8 350.6 380.8 355.1 380.7C359.6 380.6 357.4 380.4 361.0 381.3C364.6 382.2 361.6 381.5 365.8 383.4C370.0 385.3 367.8 383.8 373.6 386.9C379.4 390.0 376.8 388.4 383.3 392.8C389.8 397.2 386.5 396.0 393.0 400.2C399.5 404.4 396.2 402.4 402.7 405.4C409.2 408.4 406.6 407.5 412.4 409.3C418.2 411.1 415.0 410.5 420.2 410.8C425.4 411.1 422.8 411.1 428.0 410.3C433.2 409.5 430.0 410.1 435.8 408.3C441.6 406.5 439.0 406.6 445.5 405.0C452.0 403.4 448.7 404.7 455.2 403.5C461.7 402.3 459.1 402.4 464.9 401.5C470.7 400.6 467.5 400.2 472.7 400.9C477.9 401.6 475.3 401.0 480.5 403.5C485.7 406.0 483.1 404.7 488.3 408.3C493.5 411.9 490.8 410.8 496.0 414.2C501.2 417.6 498.6 416.0 503.8 418.4C509.0 420.8 507.1 420.3 511.6 421.3C516.1 422.3 512.9 421.9 517.4 421.5C521.9 421.1 520.0 421.1 525.2 420.0C530.4 418.9 528.8 419.3 533.0 418.3C537.2 417.3 533.9 417.6 537.8 417.1C541.7 416.6 540.1 415.1 544.6 416.7C549.1 418.3 546.5 417.9 551.4 421.9C556.3 425.9 553.4 423.8 559.2 428.7C565.0 433.6 562.4 431.4 568.9 436.5C575.4 441.6 572.8 440.3 578.6 443.9C584.4 447.5 580.6 445.1 586.4 447.2C592.2 449.3 590.3 448.9 596.1 450.1C601.9 451.3 598.7 450.8 603.9 450.7C609.1 450.6 606.4 450.9 611.6 449.7C616.8 448.5 614.2 448.7 619.4 447.2C624.6 445.7 621.4 446.3 627.2 445.3C633.0 444.3 631.7 444.8 636.9 444.3C642.1 443.8 638.3 443.5 642.8 443.9C647.3 444.3 645.3 444.3 650.5 445.6C655.7 446.9 653.1 446.9 658.3 447.8C663.5 448.7 660.9 448.5 666.1 448.2C671.3 447.9 668.7 447.8 673.9 446.8C679.1 445.8 676.4 445.9 681.6 445.3C686.8 444.7 684.2 444.9 689.4 444.9C694.6 444.9 692.0 444.7 697.2 445.3C702.4 445.9 700.8 445.6 705.0 446.6C709.2 447.6 705.6 446.7 709.8 448.2C714.0 449.7 712.4 449.2 717.6 451.1C722.8 453.0 720.1 452.7 725.3 454.0C730.5 455.3 727.9 454.8 733.1 455.0C738.3 455.2 735.1 455.4 740.9 454.6C746.7 453.8 744.8 453.6 750.6 452.6C756.4 451.6 753.2 453.0 758.4 451.5C763.6 450.0 761.0 450.3 766.2 448.2C771.4 446.1 768.7 447.1 773.9 445.3C779.1 443.5 776.5 445.0 781.7 442.7C786.9 440.4 784.3 441.2 789.5 438.5C794.7 435.8 792.1 436.6 797.3 434.6C802.5 432.6 799.8 433.6 805.0 432.6C810.2 431.6 808.3 431.9 812.8 431.6C817.3 431.3 814.1 431.3 818.6 431.6C823.1 431.9 821.2 432.1 826.4 432.6C831.6 433.1 829.0 432.8 834.2 433.0C839.4 433.2 836.8 433.1 842.0 433.2C847.2 433.3 844.5 433.2 849.7 433.2C854.9 433.2 852.3 433.4 857.5 433.2C862.7 433.0 860.1 433.1 865.3 432.6C870.5 432.1 868.3 432.2 873.1 431.8C877.9 431.4 875.0 432.2 879.8 431.4C884.6 430.6 881.8 431.5 887.6 429.3C893.4 427.1 890.8 427.9 897.3 424.8C903.8 421.7 900.5 422.6 907.0 420.0C913.5 417.4 910.3 418.4 916.8 417.1C923.3 415.8 920.0 417.1 926.5 416.1C933.0 415.1 929.7 415.2 936.2 414.2C942.7 413.2 940.1 413.7 945.9 413.2C951.7 412.7 948.5 412.5 953.7 412.8C958.9 413.1 955.7 413.2 961.5 414.2C967.3 415.2 964.5 414.4 971.2 415.7C977.9 417.0 978.1 417.2 981.5 418.0" fill="none" stroke="#ff6d00" stroke-width="1.45" stroke-linejoin="round" stroke-linecap="round"/>
<line x1="16" y1="277.5" x2="1159" y2="277.5" stroke="#e0e3eb" stroke-width="1"/>
<line x1="16" y1="342.5" x2="1159" y2="342.5" stroke="#e0e3eb" stroke-width="1"/>
<line x1="16" y1="471.5" x2="1159" y2="471.5" stroke="#e0e3eb" stroke-width="1"/>
<line x1="1067.5" y1="16" x2="1067.5" y2="512" stroke="#b3b3b7" stroke-width="1"/>
<text transform="scale(0.97,1)" x="1112.44 1122.91 1128.58 1138.33" y="52.7" font-size="17.3" fill="#b2b5be" stroke="#b2b5be" stroke-width="0.4">1.00</text>
<text transform="scale(0.97,1)" x="1112.03 1122.50 1128.17 1137.92 1147.68 1157.43" y="114.7" font-size="17.3" fill="#b2b5be" stroke="#b2b5be" stroke-width="0.4">0.8000</text>
<text transform="scale(0.97,1)" x="1112.03 1122.50 1128.17 1137.92 1147.68 1157.43" y="177.2" font-size="17.3" fill="#b2b5be" stroke="#b2b5be" stroke-width="0.4">0.6000</text>
<text transform="scale(0.97,1)" x="1112.03 1121.78 1132.26 1137.92 1147.68" y="321.0" font-size="17.3" fill="#b2b5be" stroke="#b2b5be" stroke-width="0.4">50.00</text>
<path d="M1067 147H1138.2Q1141.2 147 1141.2 150V170.5Q1141.2 173.5 1138.2 173.5H1067Z" fill="#2157f3"/>
<text transform="scale(0.93,1)" x="1159.79 1170.64 1176.63 1186.80 1196.97 1207.15" y="166.6" font-size="17.5" fill="#ffffff" stroke="#ffffff" stroke-width="0.8" stroke-linejoin="round">0.6348</text>
<path d="M1067 205H1138.2Q1141.2 205 1141.2 208V228Q1141.2 231 1138.2 231H1067Z" fill="#ff9800"/>
<text transform="scale(0.93,1)" x="1159.79 1170.64 1176.63 1186.80 1196.97 1207.15" y="224.3" font-size="17.5" fill="#000000" stroke="#000000" stroke-width="0.8" stroke-linejoin="round">0.3818</text>
<path d="M1067 230.3H1150Q1153 230.3 1153 233.3V274Q1153 277 1150 277H1067Z" fill="#089981"/>
<text transform="scale(0.93,1)" x="1159.79 1170.64 1176.63 1186.80 1196.97 1207.15" y="249.7" font-size="17.5" fill="#ffffff" stroke="#ffffff" stroke-width="0.8" stroke-linejoin="round">0.3484</text>
<text x="1131.80" y="270.7" font-size="17.5" fill="#ffffff" textLength="11.50" lengthAdjust="spacingAndGlyphs" stroke="#ffffff" stroke-width="0.8" stroke-linejoin="round">%</text>
<text transform="scale(0.93,1)" x="1159.55 1169.96 1180.13 1190.99 1196.97 1207.15" y="270.7" font-size="17.5" fill="#ffffff" stroke="#ffffff" stroke-width="0.8" stroke-linejoin="round">−51.85</text>
<path d="M1067 307.7H1129Q1132 307.7 1132 310.7V331.7Q1132 334.7 1129 334.7H1067Z" fill="#7e57c2"/>
<text transform="scale(0.93,1)" x="1159.79 1169.96 1180.81 1186.80 1196.97" y="327.6" font-size="17.5" fill="#ffffff" stroke="#ffffff" stroke-width="0.8" stroke-linejoin="round">40.95</text>
<clipPath id="cm"><rect x="1067" y="343" width="92" height="128"/></clipPath><g clip-path="url(#cm)">
<path d="M1067 402.8H1145.5Q1148 402.8 1148 405.3V425.5Q1148 428 1145.5 428H1067Z" fill="#ffcdd2"/>
<text transform="scale(0.93,1)" x="1161.28 1167.75 1178.60 1184.59 1194.76 1204.93 1215.10" y="421.3" font-size="17.5" fill="#000000" stroke="#000000" stroke-width="0.8" stroke-linejoin="round">-0.0038</text>
<path d="M1067 427.8H1145.5Q1148 427.8 1148 430.3V452.5Q1148 455 1145.5 455H1067Z" fill="#ff6d00"/>
<text transform="scale(0.93,1)" x="1161.28 1167.75 1178.60 1184.59 1194.76 1204.93 1215.10" y="447.5" font-size="17.5" fill="#ffffff" stroke="#ffffff" stroke-width="0.8" stroke-linejoin="round">-0.0064</text>
<path d="M1067 454.8H1145.5Q1148 454.8 1148 457.3V479.5Q1148 482 1145.5 482H1067Z" fill="#2196f3"/>
<text transform="scale(0.93,1)" x="1161.28 1167.75 1178.60 1184.59 1194.76 1204.93 1215.10" y="473.7" font-size="17.5" fill="#ffffff" stroke="#ffffff" stroke-width="0.8" stroke-linejoin="round">-0.0103</text>
</g>
<text x="15.0" y="499.2" font-size="17.4" fill="#b2b5be" font-weight="normal" text-anchor="start" textLength="24" lengthAdjust="spacingAndGlyphs" stroke="#b2b5be" stroke-width="0.3">Jun</text>
<text x="269.5" y="499.2" font-size="17.4" fill="#b2b5be" font-weight="normal" text-anchor="middle" textLength="29.4" lengthAdjust="spacingAndGlyphs" stroke="#b2b5be" stroke-width="0.3">Aug</text>
<text x="393.4" y="499.2" font-size="17.4" fill="#b2b5be" font-weight="normal" text-anchor="middle" textLength="28.4" lengthAdjust="spacingAndGlyphs" stroke="#b2b5be" stroke-width="0.3">Sep</text>
<text x="637.5" y="499.2" font-size="17.4" fill="#b2b5be" font-weight="normal" text-anchor="middle" stroke="#b2b5be" stroke-width="0.3">Nov</text>
<text x="881.7" y="498.9" font-size="17.2" fill="#b2b5be" font-weight="normal" text-anchor="middle" textLength="41" lengthAdjust="spacingAndGlyphs" stroke="#b2b5be" stroke-width="0.8" stroke-linejoin="round">2026</text>
<text x="1005.5" y="499.2" font-size="17.4" fill="#b2b5be" font-weight="normal" text-anchor="middle" stroke="#b2b5be" stroke-width="0.3">Feb</text>
<text x="26.7" y="43.5" font-size="17.8" fill="#b2b5be" font-weight="normal" text-anchor="start" textLength="258.1" lengthAdjust="spacingAndGlyphs" stroke="#b2b5be" stroke-width="0.45">ADA/USD - PAN, 1D, DEXTools.io</text>
<text x="295.3" y="43.5" font-size="17.8" fill="#b2b5be" font-weight="normal" text-anchor="start" textLength="11.7" lengthAdjust="spacingAndGlyphs" stroke="#b2b5be" stroke-width="0.45">O</text>
<text transform="scale(0.93,1)" x="330.59 341.53 347.43 357.60 367.77 377.95" y="43.5" font-size="18.1" fill="#0aa285" stroke="#0aa285" stroke-width="0.4">0.3394</text>
<text x="372.8" y="43.5" font-size="17.8" fill="#b2b5be" font-weight="normal" text-anchor="start" textLength="10.6" lengthAdjust="spacingAndGlyphs" stroke="#b2b5be" stroke-width="0.45">H</text>
<text transform="scale(0.93,1)" x="412.96 423.89 429.80 439.97 450.14 460.31" y="43.5" font-size="18.1" fill="#0aa285" stroke="#0aa285" stroke-width="0.4">0.3499</text>
<text x="449.4" y="43.5" font-size="17.8" fill="#b2b5be" font-weight="normal" text-anchor="start" textLength="7.2" lengthAdjust="spacingAndGlyphs" stroke="#b2b5be" stroke-width="0.45">L</text>
<text transform="scale(0.93,1)" x="491.99 502.92 508.83 519.00 529.17 539.34" y="43.5" font-size="18.1" fill="#0aa285" stroke="#0aa285" stroke-width="0.4">0.3395</text>
<text x="523" y="43.5" font-size="17.8" fill="#b2b5be" font-weight="normal" text-anchor="start" textLength="9" lengthAdjust="spacingAndGlyphs" stroke="#b2b5be" stroke-width="0.45">C</text>
<text transform="scale(0.93,1)" x="573.06 584.00 589.90 600.08 610.25 620.42" y="43.5" font-size="18.1" fill="#0aa285" stroke="#0aa285" stroke-width="0.4">0.3484</text>
<text transform="scale(0.93,1)" x="642.96 653.89 659.80 669.97 680.14 690.31 700.48 710.66" y="43.5" font-size="18.1" fill="#0aa285" stroke="#0aa285" stroke-width="0.4">0.008998</text>
<text x="726.74" y="43.5" font-size="18.1" fill="#0aa285" textLength="10.10" lengthAdjust="spacingAndGlyphs" stroke="#0aa285" stroke-width="0.4">%</text>
<text transform="scale(0.93,1)" x="727.85 733.99 744.42 755.36 761.26 771.43 792.41" y="43.5" font-size="18.1" fill="#0aa285" stroke="#0aa285" stroke-width="0.4">(+2.65)</text>
<text x="26.2" y="70" font-size="17.8" fill="#b2b5be" font-weight="normal" text-anchor="start" textLength="136.3" lengthAdjust="spacingAndGlyphs" stroke="#b2b5be" stroke-width="0.45">MA (50, close, 0)</text>
<text transform="scale(0.93,1)" x="186.29 197.23 203.13 213.30 223.47 233.65" y="70" font-size="18.1" fill="#ff9800" stroke="#ff9800" stroke-width="0.4">0.3818</text>
<text x="26.2" y="96.2" font-size="17.8" fill="#b2b5be" font-weight="normal" text-anchor="start" textLength="145.8" lengthAdjust="spacingAndGlyphs" stroke="#b2b5be" stroke-width="0.45">MA (200, close, 0)</text>
<text transform="scale(0.93,1)" x="196.51 207.44 213.34 223.52 233.69 243.86" y="96.2" font-size="18.1" fill="#2962ff" stroke="#2962ff" stroke-width="0.4">0.6348</text>
<text x="27" y="306.9" font-size="17.8" fill="#b2b5be" font-weight="normal" text-anchor="start" textLength="61" lengthAdjust="spacingAndGlyphs" stroke="#b2b5be" stroke-width="0.45">RSI (14)</text>
<text transform="scale(0.93,1)" x="107.04 117.22 128.15 134.05 144.23" y="306.9" font-size="18.1" fill="#7e57c2" stroke="#7e57c2" stroke-width="0.4">40.95</text>
<text x="26.6" y="372" font-size="17.8" fill="#b2b5be" font-weight="normal" text-anchor="start" textLength="187.9" lengthAdjust="spacingAndGlyphs" stroke="#b2b5be" stroke-width="0.45">MACD (12, 26, close, 9)</text>
<text transform="scale(0.93,1)" x="243.43 249.90 260.75 266.74 276.91 287.08 297.25" y="372" font-size="17.5" fill="#ffcdd2" stroke="#ffcdd2" stroke-width="0.8" stroke-linejoin="round">-0.0038</text>
<text transform="scale(0.93,1)" x="320.21 326.61 337.55 343.45 353.62 363.80 373.97" y="372" font-size="18.1" fill="#2196f3" stroke="#2196f3" stroke-width="0.4">-0.0103</text>
<text transform="scale(0.93,1)" x="397.09 403.50 414.43 420.33 430.51 440.68 450.85" y="372" font-size="18.1" fill="#ff6d00" stroke="#ff6d00" stroke-width="0.4">-0.0064</text>
<g fill="#d6d8e0" transform="translate(15.1,527.9) scale(0.817)"><path d="M14 22H7V11H0V4h14v18zM28 22h-8l7.5-18h8L28 22z"/><circle cx="20" cy="8" r="4"/></g>
<text x="50" y="545.8" font-size="19" fill="#d6d8e0" font-weight="normal" text-anchor="start" textLength="105.5" lengthAdjust="spacingAndGlyphs" stroke="#d6d8e0" stroke-width="0.5">TradingView</text>
</svg>
</body></html>
